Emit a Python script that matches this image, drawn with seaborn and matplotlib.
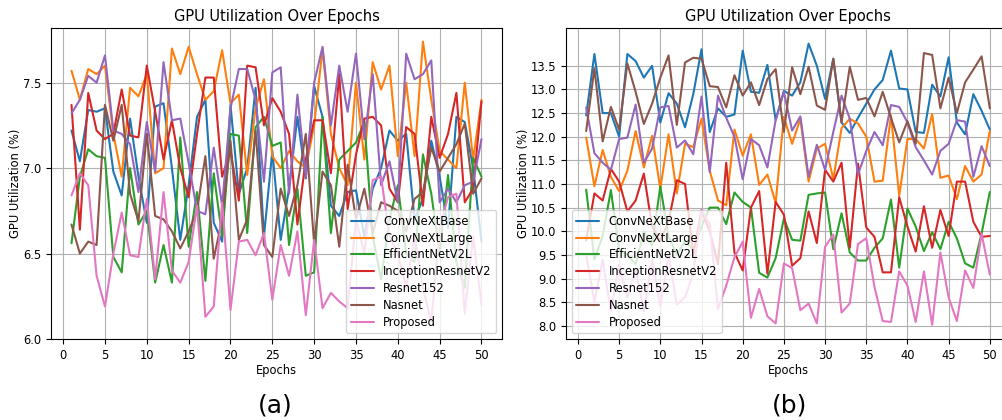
import numpy as np
import pandas as pd
import matplotlib
matplotlib.use("Agg")
import matplotlib.pyplot as plt
import seaborn as sns

epochs = list(range(1, 51))
models = ["ConvNeXtBase", "ConvNeXtLarge", "EfficientNetV2L", "InceptionResnetV2",
          "Resnet152", "Nasnet", "Proposed"]

# ---- Panel (a) ----
a_convnextbase = [7.22, 7.04, 7.34, 7.33, 7.35, 6.98, 6.84, 7.29, 6.95, 6.68,
                  7.36, 7.38, 7.00, 6.58, 6.90, 7.30, 7.40, 6.68, 6.57, 7.37,
                  6.85, 7.00, 7.47, 6.60, 7.10, 6.58, 6.88, 7.30, 6.94, 7.48,
                  7.30, 6.78, 6.72, 6.86, 6.87, 6.60, 6.88, 7.00, 7.22, 7.16,
                  7.20, 6.70, 6.82, 7.16, 6.95, 6.65, 7.30, 7.27, 7.00, 6.57]
a_convnextlarge = [7.57, 7.40, 7.58, 7.55, 7.60, 7.20, 6.95, 7.47, 7.42, 7.55,
                   6.97, 7.00, 7.70, 7.55, 7.71, 7.55, 7.40, 7.45, 7.69, 7.38,
                   7.43, 6.96, 7.35, 7.52, 7.07, 7.00, 7.10, 7.04, 7.00, 7.25,
                   7.70, 7.20, 7.00, 6.90, 7.50, 7.05, 7.62, 7.46, 7.60, 7.07,
                   7.50, 7.07, 7.74, 7.40, 7.10, 7.05, 7.00, 7.50, 7.05, 7.40]
a_efficientnet = [6.56, 6.95, 7.11, 7.07, 7.06, 6.48, 6.39, 7.00, 6.67, 6.75,
                  6.33, 6.55, 6.33, 7.18, 6.54, 6.86, 6.34, 6.97, 6.60, 7.20,
                  7.19, 6.62, 7.24, 7.30, 7.13, 7.15, 6.55, 6.88, 6.37, 6.39,
                  7.30, 6.62, 7.05, 7.10, 7.15, 7.27, 6.60, 6.35, 6.70, 6.90,
                  6.50, 6.45, 7.08, 6.85, 6.50, 6.96, 6.45, 6.30, 7.06, 6.95]
a_inception = [7.37, 6.64, 7.44, 7.22, 7.17, 7.20, 7.46, 7.19, 7.18, 7.60,
               7.33, 7.05, 7.28, 7.00, 6.83, 7.20, 7.53, 7.53, 6.95, 7.10,
               6.81, 7.60, 7.59, 7.25, 7.41, 7.33, 7.20, 6.67, 7.05, 7.28,
               7.28, 6.97, 7.55, 6.76, 7.08, 7.29, 7.30, 7.25, 6.88, 6.80,
               7.24, 7.20, 6.78, 7.30, 7.06, 7.20, 7.44, 6.80, 6.88, 7.39]
a_resnet = [7.32, 7.40, 7.54, 7.50, 7.66, 7.22, 7.20, 7.14, 6.86, 7.27,
            6.98, 7.62, 7.28, 7.29, 7.03, 6.75, 6.73, 7.12, 6.78, 7.35,
            7.58, 7.58, 7.40, 6.92, 7.56, 7.59, 6.85, 7.43, 6.95, 7.50,
            7.71, 7.25, 7.60, 7.33, 7.67, 7.17, 7.55, 6.90, 7.04, 6.80,
            7.67, 7.52, 7.55, 7.63, 6.80, 6.88, 6.80, 6.90, 6.92, 7.17]
a_nasnet = [6.67, 6.50, 6.57, 6.55, 7.37, 7.16, 7.37, 6.85, 6.69, 7.20,
            6.72, 6.70, 6.63, 6.53, 6.63, 6.75, 7.07, 6.47, 6.70, 7.16,
            6.58, 6.70, 7.22, 6.55, 6.48, 6.88, 6.72, 6.90, 7.20, 6.56,
            6.98, 6.90, 6.54, 7.02, 6.70, 6.88, 6.62, 6.80, 6.78, 6.75,
            6.63, 6.82, 6.86, 7.12, 6.98, 7.06, 7.14, 7.26, 6.85, 6.94]
a_proposed = [6.84, 6.97, 6.90, 6.37, 6.19, 6.50, 6.74, 6.49, 6.48, 6.82,
              6.35, 6.86, 6.40, 6.33, 6.45, 6.78, 6.13, 6.19, 6.80, 6.17,
              6.57, 6.58, 6.49, 6.62, 6.23, 6.55, 6.37, 6.63, 6.14, 6.58,
              6.18, 6.27, 6.22, 6.18, 6.70, 6.50, 6.93, 6.95, 6.60, 6.50,
              6.30, 6.60, 6.30, 6.10, 6.65, 6.83, 6.85, 6.15, 6.60, 6.20]

# ---- Panel (b) ----
b_convnextbase = [12.45, 13.75, 12.50, 12.50, 12.00, 13.75, 13.60, 13.25, 13.50, 12.30,
                  12.92, 12.70, 12.20, 12.90, 13.85, 12.10, 12.60, 12.42, 12.47, 13.82,
                  12.95, 12.93, 13.52, 12.35, 12.97, 12.87, 13.15, 13.97, 13.50, 12.80,
                  13.65, 12.30, 12.08, 12.40, 12.70, 13.00, 13.20, 13.82, 13.02, 13.00,
                  12.10, 12.08, 13.10, 12.85, 13.68, 12.30, 12.05, 12.90, 12.55, 12.15]
b_convnextlarge = [11.98, 10.95, 11.72, 11.15, 10.85, 11.28, 12.12, 11.35, 12.02, 10.90,
                   12.05, 10.80, 11.85, 11.78, 12.38, 11.28, 10.65, 10.55, 12.15, 11.60,
                   12.05, 10.98, 11.20, 10.60, 12.42, 11.85, 12.38, 11.05, 11.75, 11.85,
                   11.10, 12.18, 12.38, 12.28, 12.00, 11.05, 11.07, 12.45, 10.75, 11.95,
                   11.95, 11.75, 12.48, 11.13, 11.18, 10.68, 11.38, 11.05, 11.20, 12.12]
b_efficientnet = [10.88, 9.40, 9.90, 10.87, 9.60, 9.50, 9.30, 10.00, 9.70, 10.95,
                  9.90, 9.50, 9.80, 9.60, 10.10, 10.50, 10.50, 10.15, 10.82, 10.62,
                  10.50, 9.12, 9.02, 9.43, 10.27, 9.82, 9.80, 10.77, 10.80, 10.82,
                  9.62, 10.38, 9.55, 9.38, 9.38, 9.65, 9.85, 10.67, 9.23, 10.48,
                  10.10, 9.58, 9.98, 9.62, 10.20, 9.85, 9.32, 9.23, 9.95, 10.83]
b_inception = [9.80, 10.80, 10.65, 11.32, 11.05, 10.42, 10.65, 11.22, 10.10, 9.80,
               10.20, 11.08, 11.00, 9.50, 10.45, 10.00, 9.30, 11.45, 9.55, 9.17,
               10.50, 10.85, 9.10, 10.62, 10.35, 9.27, 9.43, 10.42, 9.75, 11.30,
               11.05, 11.45, 9.65, 11.43, 10.08, 9.88, 9.13, 9.13, 10.72, 10.10,
               9.57, 10.53, 9.65, 10.45, 9.90, 11.05, 11.05, 10.20, 9.88, 9.90]
b_resnet = [12.62, 11.65, 11.45, 11.30, 11.95, 11.98, 12.68, 11.45, 11.75, 12.62,
            12.65, 11.77, 11.92, 11.63, 12.85, 11.25, 12.87, 12.40, 12.00, 11.10,
            11.95, 11.82, 11.35, 12.35, 12.95, 12.13, 12.43, 11.15, 11.83, 11.30,
            12.10, 12.87, 12.38, 11.20, 11.70, 12.10, 11.82, 12.67, 12.63, 12.30,
            11.78, 11.50, 11.20, 11.70, 11.85, 12.35, 12.32, 11.15, 11.80, 11.38]
b_nasnet = [12.12, 13.45, 11.90, 12.63, 12.15, 13.55, 12.95, 12.27, 12.70, 13.25,
            13.72, 12.25, 13.57, 13.67, 13.65, 13.07, 13.05, 12.62, 13.30, 12.87,
            13.15, 12.67, 13.22, 13.43, 12.10, 13.47, 12.90, 13.48, 12.66, 12.57,
            13.65, 12.30, 13.48, 12.78, 12.82, 12.43, 12.95, 12.40, 11.88, 12.33,
            11.85, 13.77, 13.73, 12.60, 13.25, 12.50, 13.15, 13.42, 13.70, 12.60]
b_proposed = [9.50, 8.50, 9.40, 8.30, 9.30, 8.60, 9.20, 8.30, 9.40, 8.40,
              9.50, 8.45, 8.60, 9.10, 10.45, 10.15, 8.35, 8.85, 9.45, 9.78,
              8.17, 8.78, 8.20, 8.05, 9.32, 9.22, 8.33, 8.47, 8.05, 9.67,
              9.93, 8.28, 8.47, 9.73, 9.85, 8.82, 8.10, 8.08, 9.15, 8.85,
              8.08, 9.15, 8.02, 9.55, 8.60, 8.10, 9.17, 8.80, 9.95, 9.08]

panel_a = [a_convnextbase, a_convnextlarge, a_efficientnet, a_inception, a_resnet, a_nasnet, a_proposed]
panel_b = [b_convnextbase, b_convnextlarge, b_efficientnet, b_inception, b_resnet, b_nasnet, b_proposed]

sns.set_style("ticks")
plt.rcParams.update({
    "font.family": ["DejaVu Sans"],
    "axes.edgecolor": "black",
    "grid.color": "#b0b0b0",
    "grid.linewidth": 0.8,
    "axes.linewidth": 0.8,
    "xtick.color": "black",
    "ytick.color": "black",
    "text.color": "black",
    "axes.labelcolor": "black",
})

palette = sns.color_palette("tab10", 7)

fig = plt.figure(figsize=(10.03, 4.2), dpi=100)
ax_a = fig.add_axes([51 / 1003, 81 / 420, 451 / 1003, 311 / 420])
ax_b = fig.add_axes([566 / 1003, 81 / 420, 444 / 1003, 311 / 420])

def make_df(series):
    rows = []
    for name, vals in zip(models, series):
        for e, v in zip(epochs, vals):
            rows.append({"Epoch": e, "Util": v, "Model": name})
    return pd.DataFrame(rows)

fs = 8.3
for ax, series in [(ax_a, panel_a), (ax_b, panel_b)]:
    df = make_df(series)
    sns.lineplot(data=df, x="Epoch", y="Util", hue="Model", hue_order=models,
                 palette=palette, linewidth=1.5, ax=ax, legend=True)
    ax.set_title("GPU Utilization Over Epochs", fontsize=10.5, pad=5)
    ax.set_xlabel("Epochs", fontsize=fs, labelpad=1.5)
    ax.set_ylabel("GPU Utilization (%)", fontsize=fs, labelpad=0.5)
    ax.grid(True)
    ax.tick_params(labelsize=fs, length=3.5, width=0.8)
    ax.set_xticks(range(0, 51, 5))
    ax.set_xlim(-1.45, 52.45)

ax_a.set_ylim(6.0, 7.82)
ax_a.set_yticks([6.0, 6.5, 7.0, 7.5])
ax_b.set_ylim(7.72, 14.3)
ax_b.set_yticks(np.arange(8.0, 13.51, 0.5))

ax_a.legend(loc="lower right", fontsize=fs, framealpha=0.8, labelspacing=0.33,
            borderpad=0.4)
ax_b.legend(loc="lower left", fontsize=fs, framealpha=0.8, labelspacing=0.33,
            borderpad=0.4)

fig.text(275 / 1003, 1 - 405 / 420, "(a)", fontsize=18, ha="center", va="center")
fig.text(790 / 1003, 1 - 405 / 420, "(b)", fontsize=18, ha="center", va="center")

fig.savefig("out.png", dpi=100)
